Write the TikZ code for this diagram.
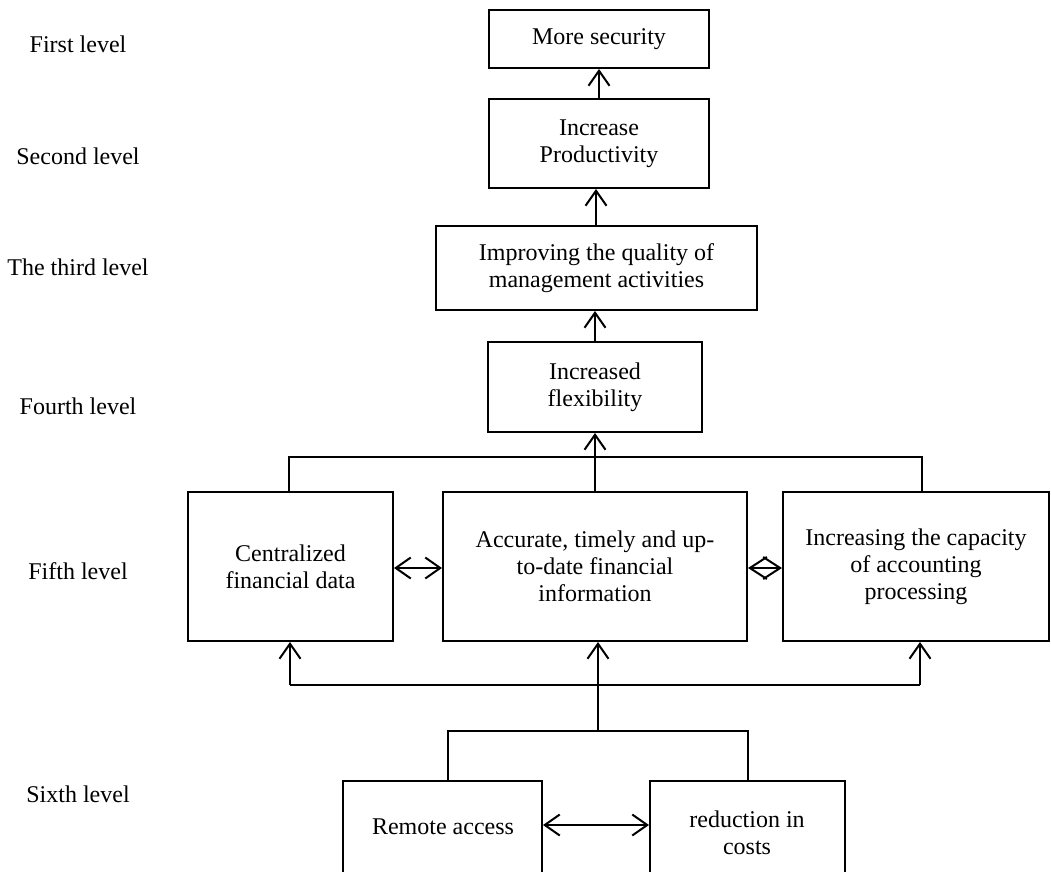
\documentclass[tikz,border=0pt]{standalone}
\usepackage{fontspec}
\setmainfont{Liberation Serif}
\usetikzlibrary{arrows.meta}
\begin{document}
\begin{tikzpicture}[x=1pt,y=-1pt,
  txt/.style={font=\fontsize{24}{27}\selectfont,align=center},
  box/.style={draw,line width=2pt,inner sep=0pt,txt},
  conn/.style={line width=2pt},
  arr/.style={conn,-{Straight Barb[length=15pt,width=21pt]}},
  darr/.style={conn,{Straight Barb[length=15pt,width=21pt]}-{Straight Barb[length=15pt,width=21pt]}},
  dia/.style={conn,{Straight Barb[length=17pt,width=22pt]}-{Straight Barb[length=17pt,width=22pt]}}]
\useasboundingbox (0,0) rectangle (1051,871);
\clip (0,0) rectangle (1051,871);
% level labels
\node[txt] (l1) at (78,44) {First level};
\node[txt] (l2) at (78,156) {Second level};
\node[txt] (l3) at (78,267) {The third level};
\node[txt] (l4) at (78,406) {Fourth level};
\node[txt] (l5) at (78,571) {Fifth level};
\node[txt] (l6) at (78,794) {Sixth level};
% boxes
\node[box,minimum width=220pt,minimum height=58pt] (sec) at (599,39) {\raisebox{-4pt}{More security}};
\node[box,minimum width=220pt,minimum height=89pt] (prod) at (599,143.5) {Increase\\Productivity};
\node[box,minimum width=321pt,minimum height=84pt] (qual) at (596.5,268) {Improving the quality of\\management activities};
\node[box,minimum width=214pt,minimum height=90pt] (flex) at (595,387) {Increased\\flexibility};
\node[box,minimum width=205pt,minimum height=149pt] (cent) at (290.5,566.5) {Centralized\\financial data};
\node[box,minimum width=304pt,minimum height=149pt] (acc) at (595,566.5) {Accurate, timely and up-\\to-date financial\\information};
\node[box,minimum width=266pt,minimum height=149pt] (cap) at (916,566.5) {Increasing the capacity\\of accounting\\processing};
\node[box,minimum width=199pt,minimum height=120pt] (rem) at (442.5,841) {};
\node[box,minimum width=195pt,minimum height=120pt] (red) at (747.5,841) {};
\node[txt] (remt) at (443,827) {Remote access};
\node[txt] (redt) at (747,833) {reduction in\\costs};
% vertical arrows upper
\draw[arr] (prod.north) -- (sec.south);
\draw[arr] ([xshift=-3pt]prod.south |- qual.north) -- ([xshift=-3pt]prod.south);
\draw[arr] (flex.north) -- (flex.north |- qual.south);
\draw[arr] (acc.north) -- (acc.north |- flex.south);
% top bracket of fifth level
\coordinate (tl) at (289,457);
\coordinate (tr) at (922,457);
\draw[conn] (tl |- cent.north) -- (tl) -- (tr) -- (tr |- cap.north);
% lower distribution line
\coordinate (hl) at (290,685);
\coordinate (hr) at (920,685);
\draw[conn] (hl) -- (hr);
\draw[arr] (hl) -- (hl |- cent.south);
\draw[arr] (hr) -- (hr |- cap.south);
% bracket of sixth level
\coordinate (bl) at (448,731);
\coordinate (bm) at (598,731);
\coordinate (bR) at (747.5,731);
\draw[conn] (bl |- rem.north) -- (bl) -- (bR) -- (bR |- red.north);
\draw[arr] (bm) -- (bm |- acc.south);
% horizontal double arrows
\draw[darr] (cent.east |- 0,568) -- (acc.west |- 0,568);
\draw[dia] (acc.east |- 0,568) -- (cap.west |- 0,568);
\draw[darr] (rem.east |- 0,825) -- (red.west |- 0,825);
\end{tikzpicture}
\end{document}
